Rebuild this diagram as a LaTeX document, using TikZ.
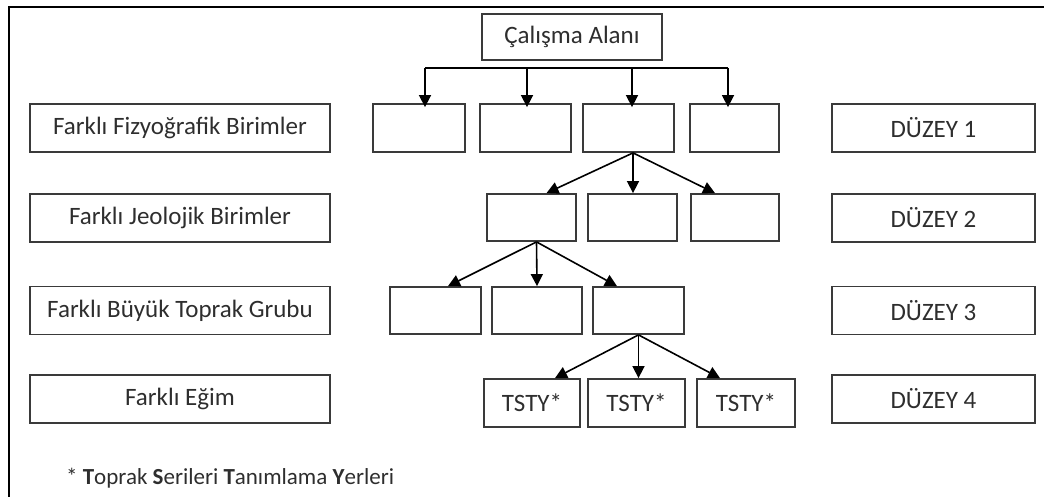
\documentclass[tikz,border=0pt]{standalone}
\usepackage{fontspec}
\setmainfont{Carlito}
\usetikzlibrary{arrows.meta}
\definecolor{boxline}{HTML}{3A3A3A}
\definecolor{txt}{HTML}{2E2E2E}
\tikzset{
  box/.style={draw=boxline, line width=1.8pt, rectangle, inner sep=0pt, minimum height=48pt, text=txt, font=\fontsize{25}{28}\selectfont},
  arr/.style={draw=black, line width=1.6pt, -{Triangle[length=12pt,width=12pt]}},
  ln/.style={draw=black, line width=1.6pt}
}
\begin{document}
\begin{tikzpicture}[x=1pt,y=-1pt]
\useasboundingbox (0,0) rectangle (1044,497);
\draw[line width=2.4pt] (9,499) -- (9,7) -- (1046,7);
% root
\node[box, minimum width=180pt, minimum height=46pt] (root) at (572,37) {Çalışma Alanı};
% labels left
\node[box, minimum width=300pt] (lab1) at (180,128) {Farklı Fizyoğrafik Birimler};
\node[box, minimum width=300pt] (lab2) at (180,218) {Farklı Jeolojik Birimler};
\node[box, minimum width=300pt] (lab3) at (180,310.5) {Farklı Büyük Toprak Grubu};
\node[box, minimum width=300pt] (lab4) at (180,399) {Farklı Eğim};
% levels right
\node[box, minimum width=203pt] (lev1) at (933.5,128) {DÜZEY 1};
\node[box, minimum width=203pt] (lev2) at (933.5,218) {DÜZEY 2};
\node[box, minimum width=203pt] (lev3) at (933.5,310.5) {DÜZEY 3};
\node[box, minimum width=203pt] (lev4) at (933.5,399) {DÜZEY 4};
% level 1
\node[box, minimum width=92pt] (a1) at (419,128) {};
\node[box, minimum width=91pt] (a2) at (525.5,128) {};
\node[box, minimum width=91pt] (a3) at (628.5,128) {};
\node[box, minimum width=89pt] (a4) at (734.5,128) {};
% level 2
\node[box, minimum width=89pt, minimum height=47pt] (b1) at (531.5,217.5) {};
\node[box, minimum width=89pt, minimum height=47pt] (b2) at (632.5,217.5) {};
\node[box, minimum width=88pt, minimum height=47pt] (b3) at (735,217.5) {};
% level 3
\node[box, minimum width=91pt, minimum height=47pt] (c1) at (435.5,310.5) {};
\node[box, minimum width=90pt, minimum height=47pt] (c2) at (537,310.5) {};
\node[box, minimum width=91pt, minimum height=47pt] (c3) at (638.5,310.5) {};
% level 4
\node[box, minimum width=96pt] (d1) at (532,403) {TSTY*};
\node[box, minimum width=97pt] (d2) at (636.5,403) {TSTY*};
\node[box, minimum width=98pt] (d3) at (746,403) {TSTY*};
% footnote
\node[anchor=west, inner sep=0pt, text=txt, font=\fontsize{23}{26}\selectfont] (note) at (66,478)
  {* \textbf{T}oprak \textbf{S}erileri \textbf{T}anımlama \textbf{Y}erleri};
% bus
\coordinate (busL) at (425,68);
\coordinate (busR) at (728,68);
\coordinate (bus2) at (527,68);
\coordinate (bus3) at (632,68);
\draw[ln] (busL) -- (busR);
\draw[arr] (busL) -- ([yshift=-4pt]busL |- a1.north);
\draw[arr] (bus2) -- ([yshift=-4pt]bus2 |- a2.north);
\draw[arr] (bus3) -- ([yshift=-4pt]bus3 |- a3.north);
\draw[arr] (busR) -- ([yshift=-4pt]busR |- a4.north);
% level1 -> level2
\draw[arr] ([xshift=4.5pt]a3.south) -- ([xshift=15pt]b1.north);
\draw[arr] ([xshift=4.5pt]a3.south) -- ([xshift=0.5pt]b2.north);
\draw[arr] ([xshift=4.5pt]a3.south) -- ([xshift=-20pt]b3.north);
% level2 -> level3
\draw[arr] ([xshift=5pt]b1.south) -- ([xshift=12.5pt]c1.north);
\draw[arr] ([xshift=5pt]b1.south) -- (c2.north);
\draw[arr] ([xshift=5pt]b1.south) -- ([xshift=-21.5pt]c3.north);
% level3 -> level4
\draw[arr] (c3.south) -- ([xshift=23pt]d1.north);
\draw[arr] (c3.south) -- ([xshift=2pt]d2.north);
\draw[arr] (c3.south) -- ([xshift=-26pt]d3.north);
\end{tikzpicture}
\end{document}
